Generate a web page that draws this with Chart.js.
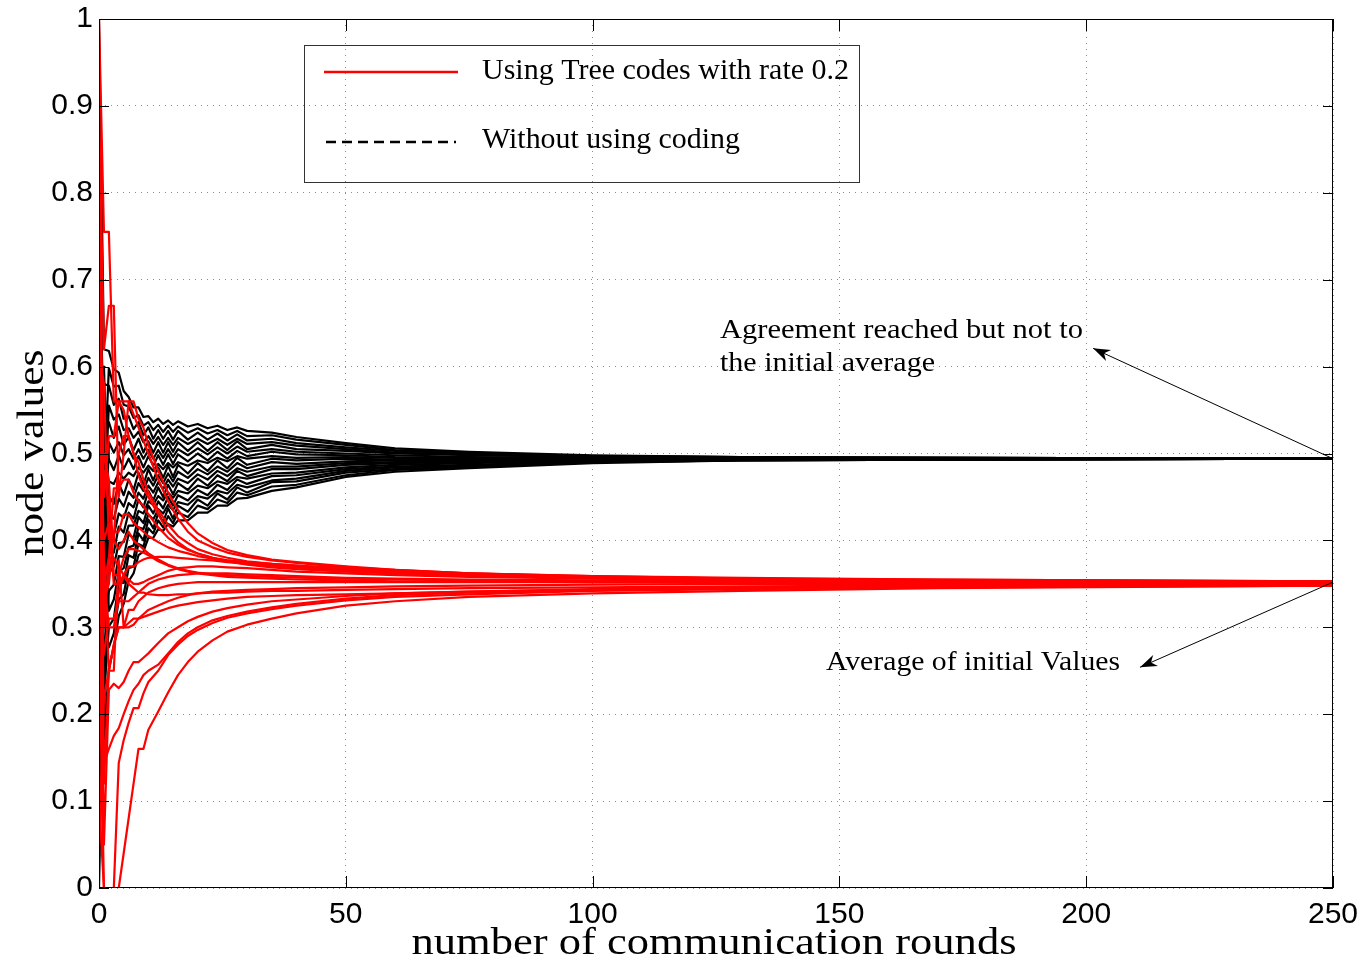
<!DOCTYPE html>
<html>
<head>
<meta charset="utf-8">
<title>node values</title>
<script src="https://cdn.jsdelivr.net/npm/chart.js@4.4.1/dist/chart.umd.min.js"></script>
<style>
    html, body { margin: 0; padding: 0; background: #ffffff; }
    #wrap { width: 1364px; height: 967px; position: relative; }
</style>
</head>
<body>
<div id="wrap"><canvas id="consensusChart"></canvas></div>
<script>
var blackRounds = [0, 1, 2, 3, 4, 5, 6, 7, 8, 9, 10, 11, 12, 13, 14, 15, 16, 18, 20, 22, 24, 26, 28, 30, 35, 40, 50, 60, 75, 100, 130, 170, 250];
var redRounds = [0, 1, 2, 3, 4, 5, 6, 7, 8, 9, 10, 12, 14, 16, 18, 20, 23, 26, 30, 35, 40, 50, 60, 75, 100, 130, 170, 250];

var xTickLabels = ['0', '50', '100', '150', '200', '250'];
var yTickLabels = ['0', '0.1', '0.2', '0.3', '0.4', '0.5', '0.6', '0.7', '0.8', '0.9', '1'];

// Node values without coding (black), one row per node, on blackRounds
var noCodingNodes = [
    [.52, .17, .253, .277, .313, .327, .353, .362, .383, .387, .403, .403, .413, .411, .419, .416, .423, .423, .432, .432, .440, .440, .448, .449, .457, .461, .473, .479, .483, .489, .492, .493, .494],
    [.88, .31, .277, .293, .332, .338, .368, .370, .396, .393, .414, .408, .423, .415, .428, .420, .432, .427, .440, .436, .447, .443, .455, .452, .462, .464, .475, .481, .484, .490, .492, .493, .494],
    [.33, .22, .301, .310, .351, .351, .383, .380, .408, .400, .424, .414, .431, .421, .437, .425, .440, .433, .447, .440, .454, .447, .461, .455, .467, .468, .478, .482, .485, .490, .492, .493, .494],
    [.60, .45, .319, .332, .364, .368, .392, .394, .415, .413, .430, .424, .436, .431, .441, .435, .444, .441, .451, .448, .457, .454, .464, .461, .469, .471, .480, .484, .486, .491, .493, .493, .494],
    [0.0, .27, .342, .349, .382, .381, .407, .403, .427, .420, .440, .431, .445, .437, .450, .440, .452, .446, .458, .452, .464, .458, .470, .465, .474, .475, .482, .485, .487, .491, .493, .493, .494],
    [.75, .52, .362, .370, .397, .398, .417, .417, .434, .431, .445, .441, .451, .446, .455, .449, .457, .454, .463, .460, .468, .465, .473, .471, .477, .478, .484, .487, .489, .492, .493, .494, .494],
    [.45, .38, .386, .386, .416, .409, .432, .425, .447, .438, .457, .446, .461, .450, .464, .453, .466, .458, .471, .463, .475, .468, .480, .474, .482, .482, .487, .489, .490, .492, .493, .494, .494],
    [.25, .60, .406, .406, .431, .426, .443, .438, .455, .448, .463, .455, .467, .459, .470, .462, .471, .466, .476, .470, .480, .474, .483, .479, .485, .485, .489, .490, .491, .493, .494, .494, .494],
    [.95, .19, .428, .425, .448, .439, .456, .449, .466, .457, .472, .463, .475, .466, .477, .468, .479, .472, .482, .476, .485, .479, .489, .483, .490, .488, .491, .492, .492, .493, .494, .494, .494],
    [.08, .49, .451, .442, .466, .452, .470, .458, .478, .464, .482, .469, .484, .472, .486, .473, .487, .477, .489, .480, .492, .483, .495, .487, .494, .492, .494, .493, .493, .494, .494, .494, .494],
    [.70, .41, .468, .465, .478, .471, .478, .474, .484, .478, .486, .480, .488, .482, .489, .484, .490, .486, .492, .489, .495, .491, .497, .494, .497, .495, .496, .495, .494, .494, .494, .494, .494],
    [.40, .56, .493, .481, .498, .482, .494, .482, .497, .484, .497, .486, .498, .487, .499, .488, .499, .491, .500, .492, .502, .494, .503, .497, .502, .499, .498, .496, .495, .495, .495, .494, .494],
    [.83, .34, .513, .501, .513, .498, .505, .494, .505, .494, .504, .494, .504, .495, .505, .496, .505, .498, .506, .499, .507, .500, .508, .502, .505, .502, .500, .498, .496, .495, .495, .494, .494],
    [.18, .53, .536, .518, .531, .510, .519, .504, .517, .501, .514, .501, .513, .501, .513, .502, .513, .503, .513, .503, .513, .504, .514, .505, .510, .505, .503, .500, .498, .496, .495, .495, .494],
    [.65, .43, .555, .539, .545, .527, .529, .518, .525, .513, .520, .511, .519, .510, .518, .510, .518, .511, .517, .511, .517, .510, .517, .511, .513, .509, .505, .501, .499, .496, .495, .495, .494],
    [.12, .58, .578, .556, .563, .540, .543, .528, .536, .521, .530, .517, .527, .517, .526, .516, .526, .516, .524, .516, .523, .515, .522, .515, .517, .512, .507, .503, .500, .497, .496, .495, .494],
    [.30, .47, .598, .577, .578, .556, .554, .541, .544, .532, .536, .527, .533, .525, .532, .525, .531, .524, .529, .523, .527, .521, .526, .520, .521, .516, .510, .504, .501, .497, .496, .495, .494],
    [1.0, .62, .618, .597, .593, .572, .565, .553, .553, .542, .543, .536, .540, .534, .538, .533, .537, .531, .534, .529, .532, .527, .530, .526, .524, .519, .512, .506, .502, .498, .496, .495, .494]
];

// Node values using tree codes with rate 0.2 (red), one row per node, on redRounds
var treeCodeNodes = [
    [1.0, .755, .755, .56, .56, .56, .56, .545, .53, .515, .50, .47, .445, .425, .41, .40, .392, .386, .381, .377, .374, .369, .366, .362, .358, .356, .354, .353],
    [0.9, .62, .67, .67, .45, .50, .56, .56, .54, .53, .51, .48, .455, .435, .42, .408, .397, .389, .383, .378, .375, .370, .366, .362, .359, .356, .355, .353],
    [0.8, .45, .52, .52, .56, .55, .52, .50, .49, .47, .455, .435, .418, .405, .397, .39, .384, .38, .376, .373, .371, .367, .364, .361, .358, .355, .354, .352],
    [0.7, .30, .38, .46, .46, .47, .47, .455, .445, .44, .43, .415, .403, .395, .389, .385, .38, .377, .374, .371, .369, .365, .362, .36, .357, .355, .353, .352],
    [0.62, .58, .40, .40, .50, .52, .52, .50, .475, .46, .45, .43, .41, .398, .39, .385, .38, .376, .372, .369, .367, .364, .362, .359, .357, .355, .353, .352],
    [0.55, .36, .30, .30, .34, .36, .37, .37, .375, .378, .38, .381, .381, .38, .379, .378, .377, .375, .373, .371, .369, .366, .363, .36, .357, .355, .354, .352],
    [0.45, .40, .42, .35, .35, .36, .355, .35, .35, .352, .355, .36, .365, .368, .369, .37, .37, .369, .368, .366, .364, .362, .36, .358, .356, .354, .353, .352],
    [0.35, .48, .44, .40, .39, .40, .41, .40, .395, .39, .385, .378, .372, .368, .365, .363, .361, .36, .359, .358, .357, .356, .355, .354, .353, .353, .352, .352],
    [0.25, .27, .31, .31, .33, .33, .33, .335, .34, .345, .35, .355, .358, .36, .361, .362, .362, .362, .361, .36, .359, .357, .356, .355, .354, .353, .353, .352],
    [0.15, .35, .38, .38, .37, .36, .35, .345, .34, .34, .338, .337, .337, .338, .338, .339, .34, .34, .341, .342, .342, .343, .344, .345, .346, .347, .348, .349],
    [0.05, .22, .25, .28, .30, .30, .305, .31, .31, .312, .314, .318, .322, .325, .327, .329, .331, .333, .335, .336, .337, .338, .339, .341, .343, .345, .347, .349],
    [0.72, .33, .35, .41, .41, .43, .43, .42, .415, .41, .405, .398, .392, .388, .385, .382, .379, .377, .375, .373, .371, .368, .365, .362, .359, .357, .355, .353],
    [0.4, .5, .47, .36, .36, .38, .39, .39, .388, .386, .383, .376, .371, .367, .364, .362, .36, .358, .357, .356, .355, .354, .353, .353, .352, .352, .352, .351],
    [0.1, 0, 0, 0, 0, .04, .08, .12, .16, .16, .182, .203, .225, .245, .26, .272, .285, .295, .303, .31, .316, .325, .33, .335, .339, .342, .345, .348],
    [0.3, 0, 0, 0, .144, .17, .19, .207, .207, .224, .237, .25, .268, .28, .29, .297, .305, .311, .316, .321, .325, .331, .335, .338, .342, .344, .346, .348],
    [0.2, .144, .16, .175, .184, .20, .215, .228, .235, .245, .25, .257, .27, .283, .293, .30, .308, .313, .318, .323, .327, .333, .337, .34, .343, .345, .347, .349],
    [0.5, .05, .228, .235, .23, .237, .25, .26, .26, .265, .27, .282, .293, .30, .307, .312, .318, .322, .326, .33, .332, .336, .339, .341, .344, .346, .348, .349],
    [0.85, .12, .25, .28, .30, .30, .30, .303, .31, .315, .32, .325, .33, .334, .337, .339, .341, .342, .343, .344, .345, .346, .347, .348, .349, .35, .35, .35],
    [0.65, .377, .25, .25, .377, .30, .32, .32, .33, .335, .34, .345, .348, .35, .351, .352, .352, .352, .352, .352, .352, .352, .352, .352, .352, .352, .352, .352]
];

var legendLabels = ['Using Tree codes with rate 0.2', 'Without using coding'];

var serif = '"Liberation Serif", "Times New Roman", serif';
var sans = '"Liberation Sans", Arial, sans-serif';

// Write text squeezed/stretched to a given width (the original uses LaTeX fonts)
function fitText(ctx, str, x, y, width, size, align) {
    ctx.font = size + 'px ' + serif;
    var w = ctx.measureText(str).width;
    ctx.save();
    ctx.translate(x, y);
    ctx.scale(width / w, 1);
    ctx.textAlign = align || 'left';
    ctx.textBaseline = 'middle';
    ctx.fillStyle = '#000';
    ctx.fillText(str, 0, 0);
    ctx.restore();
}

function drawArrow(ctx, x1, y1, x2, y2) {
    var ang = Math.atan2(y2 - y1, x2 - x1);
    ctx.save();
    ctx.strokeStyle = '#000';
    ctx.fillStyle = '#000';
    ctx.lineWidth = 1;
    ctx.beginPath();
    ctx.moveTo(x1, y1);
    ctx.lineTo(x2, y2);
    ctx.stroke();
    ctx.translate(x2, y2);
    ctx.rotate(ang);
    ctx.beginPath();
    ctx.moveTo(0, 0);
    ctx.lineTo(-17, -6);
    ctx.lineTo(-12, 0);
    ctx.lineTo(-17, 6);
    ctx.closePath();
    ctx.fill();
    ctx.restore();
}

// Box, inward ticks, legend, annotations and axis titles, MATLAB style
var matlabFrame = {
    id: 'matlabFrame',
    afterDatasetsDraw: function (chart) {
        var ctx = chart.ctx;
        var area = chart.chartArea;
        var xs = chart.scales.x;
        var ys = chart.scales.y;

        ctx.save();
        ctx.strokeStyle = '#000';
        ctx.lineWidth = 1;
        ctx.strokeRect(area.left + 0.5, area.top + 0.5, area.right - area.left - 1, area.bottom - area.top - 1);

        ctx.beginPath();
        xs.ticks.forEach(function (t) {
            var px = Math.round(xs.getPixelForValue(t.value)) + 0.5;
            ctx.moveTo(px, area.bottom);
            ctx.lineTo(px, area.bottom - 12);
            ctx.moveTo(px, area.top);
            ctx.lineTo(px, area.top + 12);
        });
        ys.ticks.forEach(function (t) {
            var py = Math.round(ys.getPixelForValue(t.value)) + 0.5;
            ctx.moveTo(area.left, py);
            ctx.lineTo(area.left + 10, py);
            ctx.moveTo(area.right, py);
            ctx.lineTo(area.right - 10, py);
        });
        ctx.stroke();

        // legend box (see-through, the grid shows inside it)
        ctx.strokeStyle = '#333';
        ctx.strokeRect(304.5, 45.5, 555, 137);
        ctx.lineWidth = 2.5;
        ctx.strokeStyle = '#ff0000';
        ctx.beginPath();
        ctx.moveTo(324, 72);
        ctx.lineTo(458, 72);
        ctx.stroke();
        ctx.strokeStyle = '#000';
        ctx.setLineDash([10, 6]);
        ctx.beginPath();
        ctx.moveTo(326, 142);
        ctx.lineTo(456, 142);
        ctx.stroke();
        ctx.setLineDash([]);
        fitText(ctx, legendLabels[0], 482, 71, 367, 29);
        fitText(ctx, legendLabels[1], 482, 140, 258, 29);

        // annotations
        fitText(ctx, 'Agreement reached but not to', 720, 331, 363, 27);
        fitText(ctx, 'the initial average', 720, 364, 215, 27);
        fitText(ctx, 'Average of initial Values', 826, 663, 294, 27);
        drawArrow(ctx, xs.getPixelForValue(250), ys.getPixelForValue(0.494), xs.getPixelForValue(201.4), ys.getPixelForValue(0.621));
        drawArrow(ctx, xs.getPixelForValue(250), ys.getPixelForValue(0.352), xs.getPixelForValue(210.9), ys.getPixelForValue(0.254));

        // axis titles
        fitText(ctx, 'number of communication rounds', (area.left + area.right) / 2 - 2, 944, 605, 38, 'center');
        ctx.save();
        ctx.translate(33, 453);
        ctx.rotate(-Math.PI / 2);
        fitText(ctx, 'node values', 0, 0, 207, 38, 'center');
        ctx.restore();
        ctx.restore();
    }
};

function toPoints(rounds, values) {
    return values.map(function (v, i) {
        return { x: rounds[i], y: v };
    });
}

var datasets = [];
// red first so that it is painted over the black curves
treeCodeNodes.forEach(function (values, i) {
    datasets.push({
        label: legendLabels[0] + ' ' + (i + 1),
        data: toPoints(redRounds, values),
        borderColor: '#ff0000',
        borderWidth: 2.2,
        fill: false
    });
});
noCodingNodes.forEach(function (values, i) {
    datasets.push({
        label: legendLabels[1] + ' ' + (i + 1),
        data: toPoints(blackRounds, values),
        borderColor: '#000000',
        borderWidth: 2.2,
        fill: false
    });
});

var gridColor = '#8c8c8c';

new Chart(document.getElementById('consensusChart'), {
    type: 'line',
    data: { datasets: datasets },
    options: {
        responsive: true,
        maintainAspectRatio: false,
        animation: false,
        events: [],
        layout: { padding: { top: 19, right: 31, left: 0, bottom: 0 } },
        elements: {
            point: { radius: 0 },
            line: { tension: 0, borderJoinStyle: 'round', borderCapStyle: 'round' }
        },
        plugins: {
            legend: { display: false },
            tooltip: { enabled: false }
        },
        scales: {
            x: {
                type: 'linear',
                min: 0,
                max: 250,
                afterFit: function (scale) {
                    scale.height = 79;
                    scale.paddingLeft = 0;
                    scale.paddingRight = 0;
                },
                ticks: {
                    stepSize: 50,
                    autoSkip: false,
                    maxRotation: 0,
                    padding: 9,
                    color: '#000',
                    font: { family: sans, size: 30 },
                    callback: function (value, index) { return xTickLabels[index]; }
                },
                grid: { color: gridColor, lineWidth: 1, drawTicks: false },
                border: { display: false, dash: [1, 5] }
            },
            y: {
                type: 'linear',
                min: 0,
                max: 1,
                afterFit: function (scale) {
                    scale.width = 99;
                    scale.paddingTop = 0;
                    scale.paddingBottom = 0;
                },
                ticks: {
                    stepSize: 0.1,
                    autoSkip: false,
                    padding: 6,
                    color: '#000',
                    font: { family: sans, size: 30 },
                    callback: function (value, index) { return yTickLabels[index]; }
                },
                grid: { color: gridColor, lineWidth: 1, drawTicks: false },
                border: { display: false, dash: [1, 5] }
            }
        }
    },
    plugins: [matlabFrame]
});
</script>
</body>
</html>
